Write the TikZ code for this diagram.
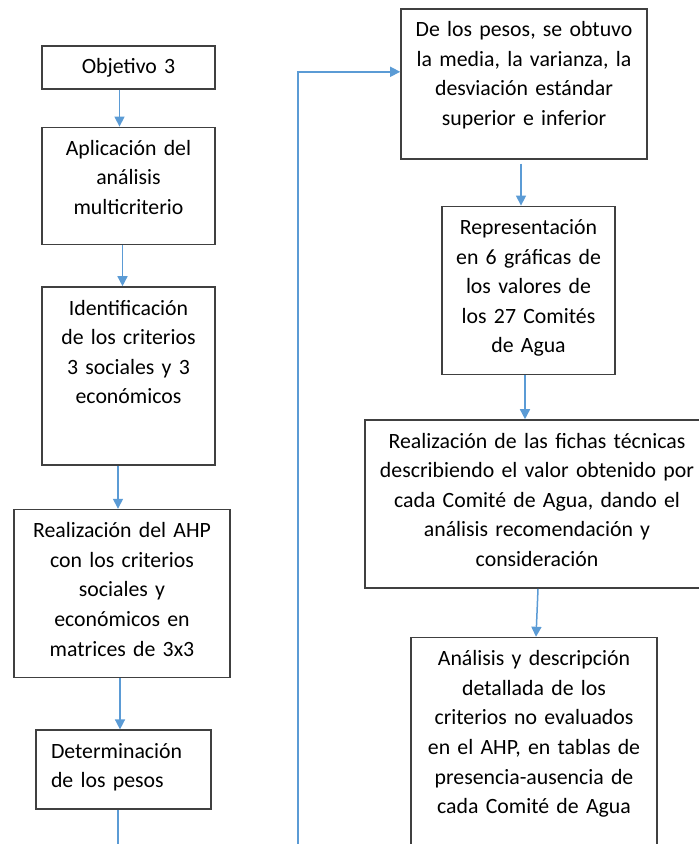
\documentclass[tikz,border=0pt]{standalone}
\usepackage{fontspec}
\setmainfont{Carlito}
\usepackage{xcolor}
\usepackage{tikz}
\usetikzlibrary{positioning,arrows.meta}

\definecolor{flowblue}{HTML}{5B9BD5}
\definecolor{boxline}{HTML}{404040}

\begin{document}
\begin{tikzpicture}[
      box/.style={draw=boxline, line width=0.8pt, rectangle, align=center,
                  text height=8pt, inner xsep=0pt, inner ysep=6pt,
                  font=\fontsize{10.9pt}{14.8pt}\selectfont},
      arr/.style={draw=flowblue, line width=0.75pt,
                  -{Triangle[length=5pt,width=5pt]}},
      link/.style={draw=flowblue, line width=0.75pt},
    ]
    \useasboundingbox (0,0) rectangle (349.5pt,-422pt);
    % left column
    \node[box, anchor=north, text width=86.5pt, text depth=1.5pt]
      (obj) at (64.25pt,-22.5pt) {Objetivo 3};
    \node[box, below=18.5pt of obj, text width=86.5pt, text depth=38.5pt]
      (apl) {Aplicación del\\análisis\\multicriterio};
    \node[box, below=20.5pt of apl, text width=86.5pt, text depth=69pt]
      (ide) {Identificación\\de los criterios\\3 sociales y 3\\económicos};
    \node[box, below=21.5pt of ide, xshift=-3.25pt, text width=108pt, text depth=64pt]
      (ahp) {Realización del AHP\\con los criterios\\sociales y\\económicos en\\matrices de 3x3};
    \node[box, below=25.5pt of ahp, xshift=0.75pt, align=left, inner xsep=7.5pt,
          text width=72.5pt, text depth=19.5pt]
      (det) {Determinación\\de los pesos};
    % right column
    \node[box, anchor=north, text width=123pt, text depth=55pt]
      (pes) at (262pt,-4pt) {De los pesos, se obtuvo\\la media, la varianza, la\\desviación estándar\\superior e inferior};
    \node[box, below=23pt of pes, xshift=2.25pt, text width=86.5pt, text depth=64pt]
      (rep) {Representación\\en 6 gráficas de\\los valores de\\los 27 Comités\\de Agua};
    \node[box, below=22pt of rep, xshift=4.25pt, text width=172pt, text depth=64pt]
      (fic) {Realización de las fichas técnicas\\describiendo el valor obtenido por\\cada Comité de Agua, dando el\\análisis recomendación y\\consideración};
    \node[box, below=24pt of fic, xshift=-1.5pt, text width=123pt, text depth=104pt]
      (ana) {Análisis y descripción\\detallada de los\\criterios no evaluados\\en el AHP, en tablas de\\presencia-ausencia de\\cada Comité de Agua};
    \coordinate (detend) at (59pt,-430pt);
    \coordinate (loopend) at (149pt,-430pt);
    % connectors
    \draw[arr] ([xshift=-4.5pt]obj.south) -- ([xshift=-4.5pt]apl.north);
    \draw[arr] ([xshift=-3pt]apl.south) -- ([xshift=-3pt]ide.north);
    \draw[arr] ([xshift=-2pt]ahp.north |- ide.south) -- ([xshift=-2pt]ahp.north);
    \draw[arr] ([xshift=-1pt]ahp.south) -- ([xshift=-1pt]ahp.south |- det.north);
    \draw[link] ([xshift=-2.75pt]det.south) -- (detend);
    \draw[arr] (loopend) |- ([yshift=6pt]pes.west);
    \draw[arr] ([xshift=-1.5pt,yshift=-2pt]pes.south) -- ([xshift=-1.5pt]pes.south |- rep.north);
    \draw[arr] ([xshift=-1.75pt]rep.south) -- ([xshift=-1.75pt]rep.south |- fic.north);
    \draw[arr] ([xshift=0.5pt]fic.south) -- ([xshift=1pt]ana.north);
  \end{tikzpicture}
\end{document}
